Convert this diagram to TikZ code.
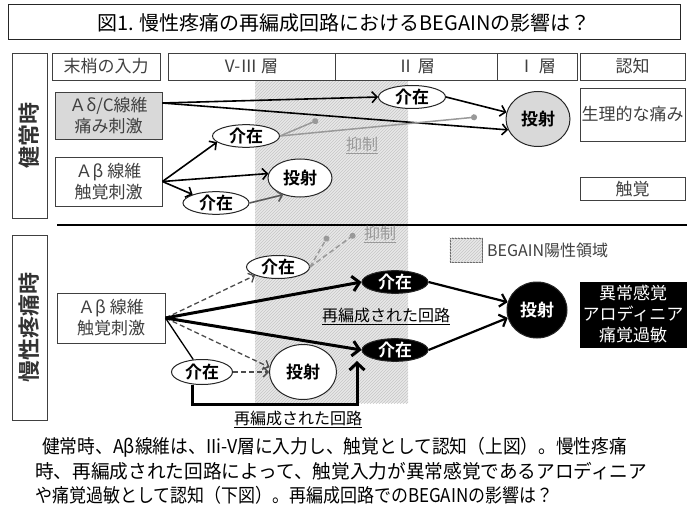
\documentclass[tikz,border=0pt]{standalone}
\usepackage{fontspec}
\setmainfont{Noto Sans CJK JP}[BoldFont={Noto Sans CJK JP Bold}]
\usetikzlibrary{shapes.geometric,arrows.meta,patterns}
\definecolor{txt}{gray}{0.25}
\definecolor{inhib}{gray}{0.6}
\begin{document}
\begin{tikzpicture}[x=1pt,y=-1pt,
  box/.style={draw=black!75, line width=0.9pt, fill=white, text=txt, inner sep=0pt, align=center, font=\fontsize{17}{21}\selectfont},
  side/.style={box, font=\fontsize{22}{24}\selectfont\bfseries, text=black!80},
  ell/.style={ellipse, draw=black!85, line width=1pt, fill=white, inner sep=0pt, font=\bfseries\fontsize{17}{20}\selectfont},
  bell/.style={ell, fill=black, text=white},
  arr/.style={line width=1.6pt, -{Straight Barb[length=5pt,width=11pt]}},
  garr/.style={arr, draw=black!65},
  tarr/.style={line width=3pt, -{Straight Barb[length=7pt,width=15pt]}},
  marr/.style={line width=2.2pt, -{Straight Barb[length=6pt,width=13pt]}},
  darr/.style={line width=1.3pt, draw=black!70, dash pattern=on 5pt off 3pt, -{Straight Barb[length=5pt,width=10pt]}},
  inh/.style={line width=1.5pt, draw=inhib, -{Circle[length=6pt]}},
  dinh/.style={inh, dash pattern=on 5pt off 3pt},
  lab/.style={font=\fontsize{16}{18}\selectfont, text=inhib, inner sep=0pt},
  captext/.style={anchor=west, inner sep=0pt, font=\fontsize{19}{23}\selectfont}
]
\fill[white] (0,0) rectangle (687,513);
\useasboundingbox (0,0) rectangle (687,513);

% shaded BEGAIN region
\fill[gray!18] (255,80) rectangle (408,403);
\fill[pattern=north east lines, pattern color=gray!45] (255,80) rectangle (408,403);

% title
\node[draw=black!85, line width=1pt, minimum width=672, minimum height=35, inner sep=0pt,
  font=\fontsize{20}{22}\selectfont] (title) at (344,22.5) {図1. 慢性疼痛の再編成回路におけるBEGAINの影響は？};

% header row
\node[box, minimum width=108, minimum height=27] (h0) at (106,66.5) {末梢の入力};
\node[box, minimum width=167, minimum height=27] (h1) at (251.5,66.5) {V-Ⅲ 層};
\node[box, minimum width=162, minimum height=27] (h2) at (416,66.5) {Ⅱ 層};
\node[box, minimum width=80, minimum height=27] (h3) at (537,66.5) {Ⅰ 層};
\node[box, minimum width=105, minimum height=27] (h4) at (632.5,66.5) {認知};

% side labels
\node[side, minimum width=35, minimum height=165] (s1) at (29.5,135.5) {\rotatebox{90}{健常時}};
\node[side, minimum width=35, minimum height=185] (s2) at (29.5,327.5) {\rotatebox{90}{慢性疼痛時}};

% ---- upper panel ----
\node[box, fill=gray!30, minimum width=107, minimum height=47] (ad) at (108.5,115.5) {Ａδ/C線維\\痛み刺激};
\node[box, minimum width=107, minimum height=49] (ab1) at (108.5,181.5) {Ａβ 線維\\触覚刺激};
\node[box, minimum width=105, minimum height=53] (pain) at (632.5,114.5) {生理的な痛み};
\node[box, minimum width=105, minimum height=23] (touch) at (632.5,189) {触覚};

\node[ell, minimum width=67, minimum height=22] (i1) at (246,136) {介在};
\node[ell, minimum width=64, minimum height=38] (p1) at (300,178) {投射};
\node[ell, minimum width=66, minimum height=22] (i2) at (216,203) {介在};
\node[ell, minimum width=67, minimum height=23] (i3) at (412,97) {介在};
\node[ell, fill=gray!30, minimum width=64, minimum height=55] (p2) at (538,119) {投射};

\coordinate (inA) at (318,120);
\coordinate (inB) at (477,117);
\node[lab] (l1) at (362,145) {\underline{抑制}};

\draw[arr] ([yshift=12.5]ad.east) -- (i3.west);
\draw[arr] ([yshift=12.5]ad.east) -- (p2.200);
\draw[arr] (i3.east) -- (p2.168);
\draw[inh] (i1.east) -- (inA);
\draw[inh] (i1.east) -- (inB);
\draw[arr] (ab1.east) -- (i1.192);
\draw[arr] (ab1.east) -- (p1.172);
\draw[arr] (ab1.east) -- (i2.160);
\draw[garr] (i2.east) -- (p1.225);

% divider
\draw[line width=1.6pt] (57,225) -- (687,225);

% ---- lower panel ----
\node[box, minimum width=108, minimum height=50] (ab2) at (111,318) {Ａβ 線維\\触覚刺激};
\node[ell, minimum width=63, minimum height=23] (i4) at (278,267) {介在};
\node[ell, minimum width=61, minimum height=25] (i5) at (202,372) {介在};
\node[ell, minimum width=67, minimum height=55] (p3) at (303,372) {投射};
\node[bell, minimum width=66, minimum height=22] (b1) at (395,282) {介在};
\node[bell, minimum width=66, minimum height=22] (b2) at (395,350) {介在};
\node[bell, minimum width=60, minimum height=56] (bp) at (537,310) {投射};
\node[box, fill=black, text=white, draw=black, minimum width=106, minimum height=65] (res) at (633,314.5) {異常感覚\\アロディニア\\痛覚過敏};

% legend
\node[draw=black!60, line width=0.8pt, fill=gray!18, minimum width=32, minimum height=24, inner sep=0pt] (leg) at (466,250) {};
\fill[pattern=north east lines, pattern color=gray!45] (leg.south west) rectangle (leg.north east);
\node[anchor=west, inner sep=0pt, text=txt, font=\fontsize{16}{18}\selectfont] (legt) at (487,250) {BEGAIN陽性領域};

\coordinate (d1) at (328,236);
\coordinate (d2) at (355,234);
\node[lab, anchor=west] (l2) at (364,234) {\underline{抑制}};
\draw[dinh] (i4.east) -- (d1);
\draw[dinh] (i4.east) -- (d2);

\draw[darr] (ab2.east) -- (i4.200);
\draw[darr] (ab2.east) -- (p3.172);
\draw[line width=1.3pt] (ab2.east) -- (i5.125);
\draw[darr] (i5.east) -- (p3.west);
\draw[tarr] (ab2.east) -- (b1.west);
\draw[tarr] (ab2.east) -- (b2.west);
\draw[marr] (b1.east) -- (bp.165);
\draw[marr] (b2.east) -- (bp.195);

\coordinate (rb) at (357,404);
\coordinate (rt) at (357,361);
\draw[line width=3pt, -{Straight Barb[length=7pt,width=15pt]}] ([xshift=-10]i5.south) |- (rb) -- (rt);

\node[inner sep=0pt, font=\fontsize{16}{18}\selectfont] (r1) at (386,316) {\underline{再編成された回路}};
\node[inner sep=0pt, font=\fontsize{16}{18}\selectfont] (r2) at (298,419) {\underline{再編成された回路}};

% caption
\node[captext] (c1) at (42,447) {\resizebox{585pt}{\height}{健常時、Aβ線維は、IIi-V層に入力し、触覚として認知（上図）。慢性疼痛}};
\node[captext] (c2) at (35,471) {\resizebox{612pt}{\height}{時、再編成された回路によって、触覚入力が異常感覚であるアロディニア}};
\node[captext] (c3) at (35,495) {\resizebox{518pt}{\height}{や痛覚過敏として認知（下図）。再編成回路でのBEGAINの影響は？}};
\end{tikzpicture}
\end{document}
